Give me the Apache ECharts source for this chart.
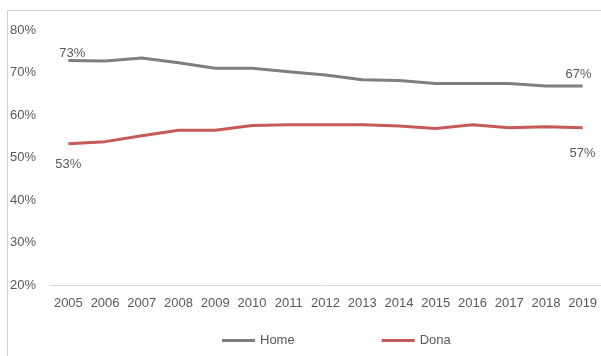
<!DOCTYPE html>
<html>
<head>
<meta charset="utf-8">
<script src="https://cdn.jsdelivr.net/npm/echarts@6/dist/echarts.min.js"></script>
<style>html,body{margin:0;padding:0;background:#fff}#c{width:601px;height:356px}</style>
</head>
<body>
<div id="c"></div>
<script>
var years = ['2005','2006','2007','2008','2009','2010','2011','2012','2013','2014','2015','2016','2017','2018','2019'];
var home = [72.9, 72.8, 73.5, 72.4, 71.1, 71.1, 70.3, 69.5, 68.4, 68.2, 67.5, 67.5, 67.5, 66.9, 66.9];
var dona = [53.3, 53.8, 55.2, 56.5, 56.5, 57.6, 57.8, 57.8, 57.8, 57.5, 56.9, 57.8, 57.1, 57.3, 57.1];
var seriesNames = ['Home', 'Dona'];

var textColor = '#595959';
var font = 'Liberation Sans';

function withEndLabels(arr, pos, offFirst, offLast) {
  return arr.map(function (v, i) {
    if (i === 0 || i === arr.length - 1) {
      return {
        value: v,
        label: {
          show: true, position: pos, color: textColor, fontSize: 13, fontFamily: font,
          offset: i === 0 ? offFirst : offLast,
          formatter: function (p) { return Math.round(p.value) + '%'; }
        }
      };
    }
    return v;
  });
}

var chart = echarts.init(document.getElementById('c'), null, {renderer: 'canvas'});
chart.setOption({
  animation: false,
  backgroundColor: '#fff',
  textStyle: {fontFamily: font},
  graphic: [{
    type: 'polyline', silent: true,
    shape: {points: [[7.5, 356], [7.5, 10.5], [601, 10.5]]},
    style: {stroke: '#d0d0d0', lineWidth: 1, fill: null}
  }],
  grid: {left: 50, right: 0, top: 30.5, bottom: 71, containLabel: false},
  legend: {
    top: 329, left: 217, itemGap: 87, itemWidth: 33, itemHeight: 3,
    icon: 'rect',
    textStyle: {color: textColor, fontSize: 13, fontFamily: font},
    data: seriesNames
  },
  xAxis: {
    type: 'category', data: years, boundaryGap: true,
    axisLine: {lineStyle: {color: '#d9d9d9', width: 1}},
    axisTick: {show: false},
    axisLabel: {color: textColor, fontSize: 13, fontFamily: font, margin: 12, interval: 0}
  },
  yAxis: {
    type: 'value', min: 20, max: 80, interval: 10,
    splitLine: {show: false},
    axisLine: {show: false}, axisTick: {show: false},
    axisLabel: {color: textColor, fontSize: 13, fontFamily: font, align: 'left', margin: 40,
      formatter: '{value}%'}
  },
  series: [
    {
      name: seriesNames[0], type: 'line', data: withEndLabels(home, 'top', [4, 4], [-4, 0]),
      showSymbol: true, showAllSymbol: true, symbol: 'circle', symbolSize: 0.01,
      lineStyle: {color: '#7f7f7f', width: 3}, itemStyle: {color: '#7f7f7f'}
    },
    {
      name: seriesNames[1], type: 'line', data: withEndLabels(dona, 'bottom', [0, 9], [0, 14]),
      showSymbol: true, showAllSymbol: true, symbol: 'circle', symbolSize: 0.01,
      lineStyle: {color: '#c65a58', width: 3}, itemStyle: {color: '#c65a58'}
    }
  ]
});
</script>
</body>
</html>
